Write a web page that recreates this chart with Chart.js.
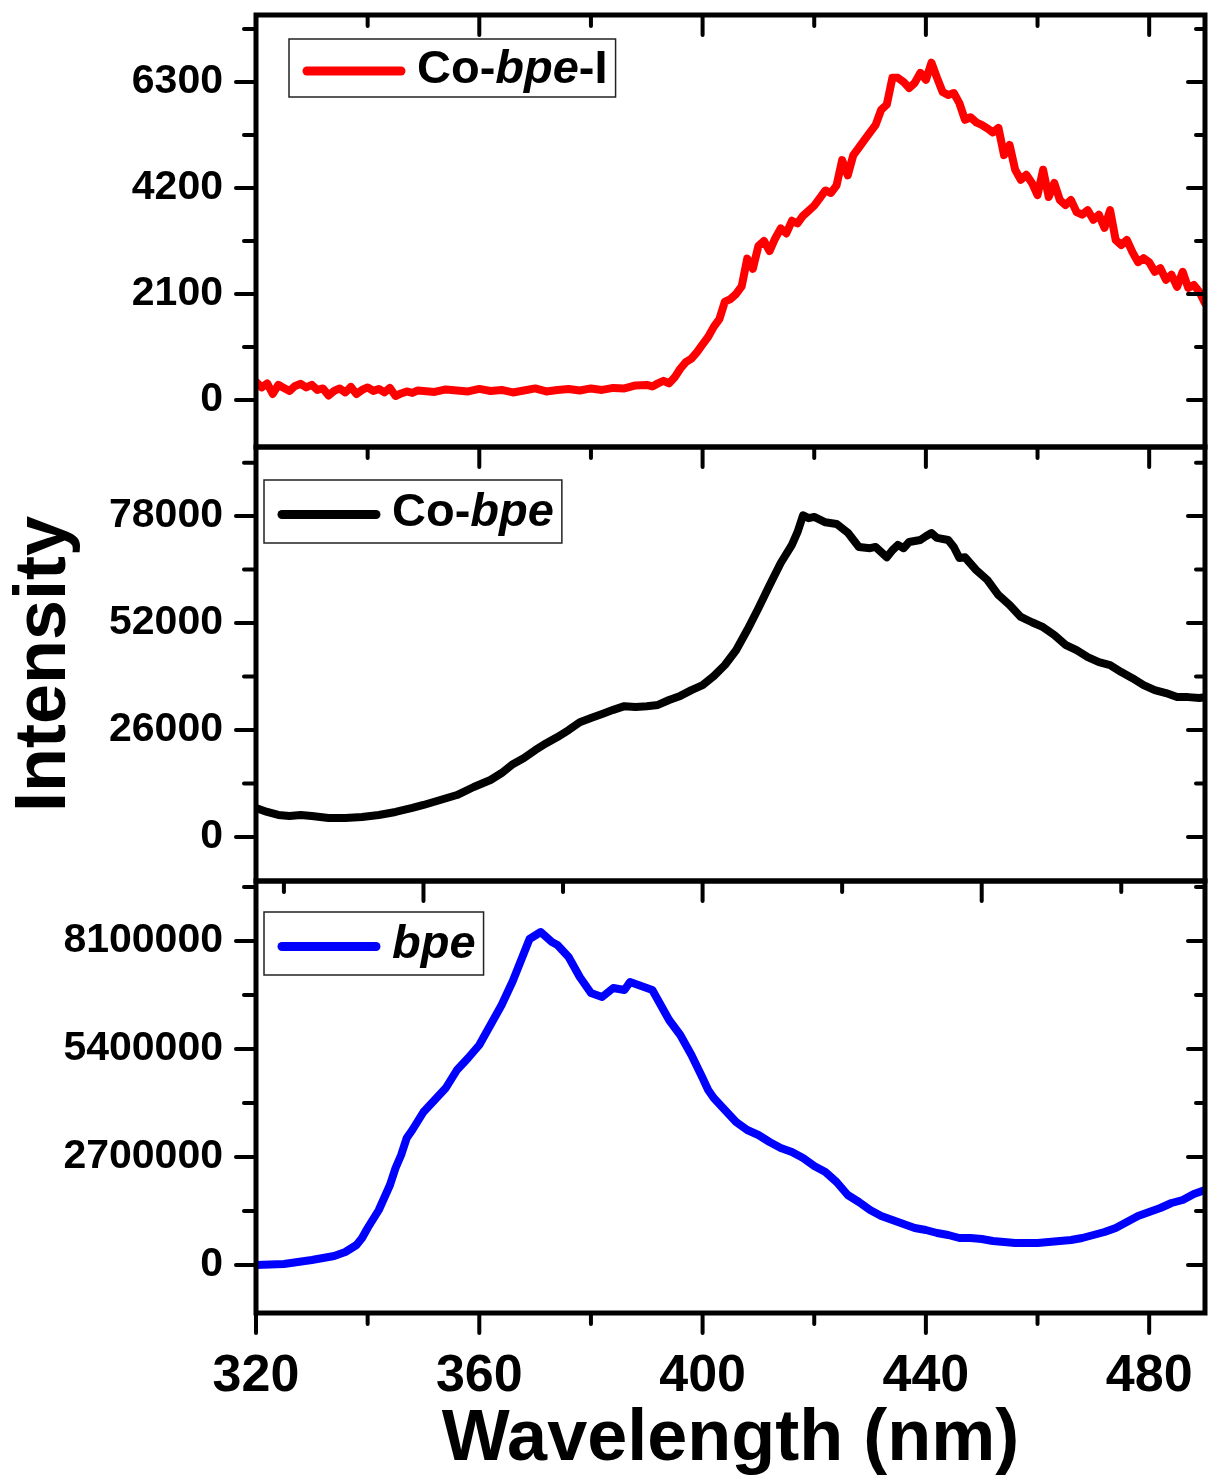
<!DOCTYPE html>
<html>
<head>
<meta charset="utf-8">
<script src="https://cdn.jsdelivr.net/npm/chart.js@4.4.1/dist/chart.umd.min.js"></script>
<style>
  html, body { margin: 0; padding: 0; background: #fff; }
  #wrap { position: relative; width: 1209px; height: 1478px; }
  #wrap canvas { position: absolute; left: 0; }
</style>
</head>
<body>
<div id="wrap">
  <canvas id="panelTop" width="1209" height="460" style="top:0px"></canvas>
  <canvas id="panelMid" width="1209" height="460" style="top:435px"></canvas>
  <canvas id="panelBot" width="1209" height="610" style="top:868px"></canvas>
</div>
<script>
// emission spectra, wavelength in nm
const nmCoBpeI = [320,321,322,323,324,325,326,327,328,329,330,331,332,333,334,335,336,337,338,339,
  340,341,342,343,344,345,346,347,348,349,350,352,354,356,358,360,362,364,366,368,
  370,372,374,376,378,380,382,384,386,388,390,391,392,393,394,395,396,397,398,399,
  400,401,402,403,404,405,406,407,408,409,410,411,412,413,414,415,416,417,418,419,
  420,421,422,423,424,425,426,427,428,429,430,431,432,433,434,435,436,437,438,439,
  440,441,442,443,444,445,446,447,448,449,450,451,452,453,454,455,456,457,458,459,
  460,461,462,463,464,465,466,467,468,469,470,471,472,473,474,475,476,477,478,479,
  480,481,482,483,484,485,486,487,488,489,490];
const coBpeI = [360,250,330,120,300,240,180,280,320,250,300,200,230,90,180,230,150,260,120,200,
  250,180,220,150,240,80,130,170,140,190,180,160,210,190,170,220,180,200,150,190,
  230,170,200,220,190,230,200,240,230,290,300,270,330,380,330,450,620,750,820,950,
  1100,1250,1450,1600,1950,2000,2100,2250,2800,2600,3050,3150,2950,3200,3400,3300,3550,3500,3650,3750,
  3850,4000,4150,4100,4250,4750,4450,4850,5000,5150,5300,5450,5750,5850,6380,6380,6300,6180,6280,6480,
  6340,6680,6380,6100,6040,6080,5880,5550,5600,5500,5450,5380,5300,5390,4850,5050,4560,4360,4460,4300,
  4060,4560,4020,4300,3960,3860,3960,3720,3670,3760,3570,3670,3410,3760,3170,3070,3170,2930,2730,2810,
  2730,2540,2610,2380,2480,2240,2540,2220,2280,2140,1920];

const nmCoBpe = [320,322,324,326,328,330,333,336,339,342,345,348,350,353,356,359,362,364,366,368,
  370,372,374,376,378,380,382,384,386,388,390,392,394,396,398,400,402,404,406,408,
  410,412,414,416,417,418,419,420,422,424,426,428,430,431,433,434,435,436,437,439,
  440,441,442,444,445,446,447,449,451,453,455,457,459,461,463,465,467,469,471,473,
  475,477,479,481,483,485,487,489,490];
const coBpe = [7050,6080,5350,5100,5350,5100,4620,4620,4860,5350,6080,7050,7780,9000,10200,12150,13850,15550,17700,19200,
  21100,22800,24300,26000,27900,28900,29900,30900,31800,31600,31800,32100,33300,34300,35700,36900,39100,41800,45400,50300,
  55600,61200,66600,71000,74100,78200,77500,77800,76500,76100,74000,70500,70200,70500,68000,69700,71000,70200,71700,72200,
  73100,73900,72700,72200,70500,67800,68000,64900,62500,58800,56400,53500,52200,51000,49100,46700,45400,43700,42500,41800,
  40100,38600,36900,35700,35000,34000,34000,33800,34000];

const nmBpe = [320,325,330,334,336,338,339,340,342,344,345,346,347,348,350,352,354,356,358,360,
  362,364,366,367,368,369,371,373,374,376,378,380,382,384,386,387,389,391,392,394,
  396,398,400,401,402,404,406,408,410,412,414,416,418,420,422,424,426,428,430,432,
  434,436,438,440,442,444,446,448,450,452,454,456,458,460,462,464,466,468,470,472,
  474,476,478,480,482,484,486,488,490];
const bpe = [0,25000,125000,225000,325000,500000,675000,925000,1375000,2000000,2425000,2750000,3175000,3375000,3825000,4125000,4425000,4875000,5175000,5500000,
  6000000,6500000,7100000,7450000,7800000,8150000,8325000,8075000,8000000,7700000,7200000,6800000,6700000,6925000,6875000,7075000,6975000,6875000,6625000,6125000,
  5750000,5250000,4675000,4375000,4175000,3875000,3575000,3375000,3250000,3075000,2925000,2825000,2675000,2475000,2325000,2075000,1750000,1575000,1375000,1225000,
  1125000,1025000,925000,875000,800000,750000,675000,675000,650000,600000,575000,550000,550000,550000,575000,600000,625000,675000,750000,825000,
  925000,1075000,1225000,1325000,1425000,1550000,1625000,1775000,1875000];

// axis ticks
const wlTicks = [320, 360, 400, 440, 480];
const wlTicksLower = [350, 400, 450];   // top edge of the bpe panel uses a 50 nm spacing
const yTicksTop = [0, 2100, 4200, 6300];
const yTicksMid = [0, 26000, 52000, 78000];
const yTicksBot = [0, 2700000, 5400000, 8100000];

// legend text, [text, italic]
const legendTop = [['Co-', false], ['bpe', true], ['-I', false]];
const legendMid = [['Co-', false], ['bpe', true]];
const legendBot = [['bpe', true]];

const FONT = '"Liberation Sans", Arial, sans-serif';
Chart.defaults.font.family = FONT;
Chart.defaults.color = '#000';

function halfSteps(majors, min, max) {
  const step = majors[1] - majors[0];
  const out = [majors[0] - step / 2];
  majors.forEach(v => out.push(v + step / 2));
  return out.filter(v => v > min && v < max);
}

function seg(ctx, x1, y1, x2, y2) {
  ctx.beginPath(); ctx.moveTo(x1, y1); ctx.lineTo(x2, y2); ctx.stroke();
}

// keep the plot box where the layout padding puts it
function noEdgePadding(s) {
  s.paddingTop = 0; s.paddingBottom = 0; s.paddingLeft = 0; s.paddingRight = 0;
}

// box frame with Origin-style tick marks
const frame = {
  id: 'frame',
  afterDraw(chart, args, o) {
    const {ctx, chartArea: a, scales} = chart;
    const x = scales.x, y = scales.y;
    const inX = v => v >= x.min && v <= x.max;
    ctx.save();
    ctx.strokeStyle = '#000';
    ctx.lineWidth = 4;
    ctx.lineCap = 'round';
    o.yMajor.forEach(v => {
      const p = y.getPixelForValue(v);
      seg(ctx, a.left - 20, p, a.left, p);
      seg(ctx, a.right - 17, p, a.right, p);
    });
    halfSteps(o.yMajor, y.min, y.max).forEach(v => {
      const p = y.getPixelForValue(v);
      seg(ctx, a.left - 12, p, a.left, p);
      seg(ctx, a.right - 9, p, a.right, p);
    });
    o.topMajor.filter(inX).forEach(v => {
      const p = x.getPixelForValue(v);
      seg(ctx, p, a.top, p, a.top + 20);
    });
    halfSteps(o.topMajor, x.min, x.max).forEach(v => {
      const p = x.getPixelForValue(v);
      seg(ctx, p, a.top, p, a.top + 11);
    });
    if (o.bottomMajor) {
      o.bottomMajor.filter(inX).forEach(v => {
        const p = x.getPixelForValue(v);
        seg(ctx, p, a.bottom, p, a.bottom + 20);
      });
      halfSteps(o.bottomMajor, x.min, x.max).forEach(v => {
        const p = x.getPixelForValue(v);
        seg(ctx, p, a.bottom, p, a.bottom + 11);
      });
    }
    ctx.lineWidth = 5;
    ctx.lineCap = 'butt';
    ctx.strokeRect(a.left, a.top, a.right - a.left, a.bottom - a.top);
    ctx.restore();
  }
};

// framed legend with a mixed italic label
const legendBox = {
  id: 'legendBox',
  afterDraw(chart, args, o) {
    const {ctx, chartArea: a} = chart;
    const color = chart.data.datasets[0].borderColor;
    const bx = a.left + o.dx, by = a.top + o.dy, h = o.h;
    const fontOf = it => (it ? 'italic ' : '') + 'bold 47px ' + FONT;
    ctx.save();
    let tw = 0;
    o.parts.forEach(p => { ctx.font = fontOf(p[1]); tw += ctx.measureText(p[0]).width; });
    const w = 14 + 102 + o.gap + tw + 8;
    ctx.fillStyle = '#fff';
    ctx.fillRect(bx, by, w, h);
    ctx.strokeStyle = '#222';
    ctx.lineWidth = 1.5;
    ctx.strokeRect(bx, by, w, h);
    ctx.strokeStyle = color;
    ctx.lineWidth = 9;
    ctx.lineCap = 'round';
    seg(ctx, bx + 18, by + h / 2 + 3, bx + 112, by + h / 2 + 3);
    ctx.fillStyle = '#000';
    ctx.textBaseline = 'middle';
    let tx = bx + 116 + o.gap;
    o.parts.forEach(p => {
      ctx.font = fontOf(p[1]);
      ctx.fillText(p[0], tx, by + h / 2 + 2);
      tx += ctx.measureText(p[0]).width;
    });
    ctx.restore();
  }
};

function makePanel(id, p) {
  return new Chart(document.getElementById(id), {
    type: 'line',
    data: {
      datasets: [{
        label: p.label,
        data: p.nm.map((w, i) => ({x: w, y: p.vals[i]})),
        borderColor: p.color,
        borderWidth: 8,
        pointRadius: 0,
        borderJoinStyle: 'round',
        borderCapStyle: 'round',
        tension: 0
      }]
    },
    options: {
      responsive: false,
      animation: false,
      devicePixelRatio: 1,
      layout: {padding: {top: p.padTop, bottom: p.padBottom, left: 0, right: 4}},
      plugins: {
        legend: {display: false},
        tooltip: {enabled: false},
        frame: {yMajor: p.yTicks, topMajor: p.topTicks, bottomMajor: p.bottomTicks},
        legendBox: {parts: p.legend, dx: p.lx, dy: p.ly, h: p.lh, gap: p.gap}
      },
      scales: {
        x: {
          type: 'linear', min: 320, max: 490,
          display: !!p.bottomTicks,
          grid: {display: false},
          border: {display: false},
          ticks: {font: {size: 52, weight: 'bold'}, padding: 24, maxRotation: 0, autoSkip: false},
          title: {display: !!p.bottomTicks, text: 'Wavelength (nm)',
            font: {size: 72, weight: 'bold', lineHeight: 1}, padding: {top: 0, bottom: 2}},
          afterBuildTicks: s => { s.ticks = (p.bottomTicks || wlTicks).map(v => ({value: v})); },
          afterFit: s => { s.height = p.bottomTicks ? 165 : 0; noEdgePadding(s); }
        },
        y: {
          min: p.yMin, max: p.yMax,
          grid: {display: false},
          border: {display: false},
          ticks: {font: {size: 41, weight: 'bold'}, padding: 25, autoSkip: false, callback: v => String(v)},
          title: {display: !!p.yTitle, text: p.yTitle || '',
            font: {size: 72, weight: 'bold', lineHeight: 1}, padding: {top: 9, bottom: 0}},
          afterBuildTicks: s => { s.ticks = p.yTicks.map(v => ({value: v})); },
          afterFit: s => { s.width = 256; noEdgePadding(s); }
        }
      }
    },
    plugins: [frame, legendBox]
  });
}

makePanel('panelTop', {
  label: 'Co-bpe-I', nm: nmCoBpeI, vals: coBpeI, color: '#ff0000',
  yMin: -930, yMax: 7625, yTicks: yTicksTop, topTicks: wlTicks,
  padTop: 15, padBottom: 13, legend: legendTop, lx: 33, ly: 24, lh: 58, gap: 12
});
makePanel('panelMid', {
  label: 'Co-bpe', nm: nmCoBpe, vals: coBpe, color: '#000000',
  yMin: -10700, yMax: 94800, yTicks: yTicksMid, topTicks: wlTicks,
  padTop: 12, padBottom: 14, legend: legendMid, lx: 8, ly: 33, lh: 63, gap: 12,
  yTitle: 'Intensity'
});
makePanel('panelBot', {
  label: 'bpe', nm: nmBpe, vals: bpe, color: '#0000ff',
  yMin: -1200000, yMax: 9600000, yTicks: yTicksBot, topTicks: wlTicksLower, bottomTicks: wlTicks,
  padTop: 13, padBottom: 0, legend: legendBot, lx: 8, ly: 31, lh: 63, gap: 12
});
</script>
</body>
</html>
